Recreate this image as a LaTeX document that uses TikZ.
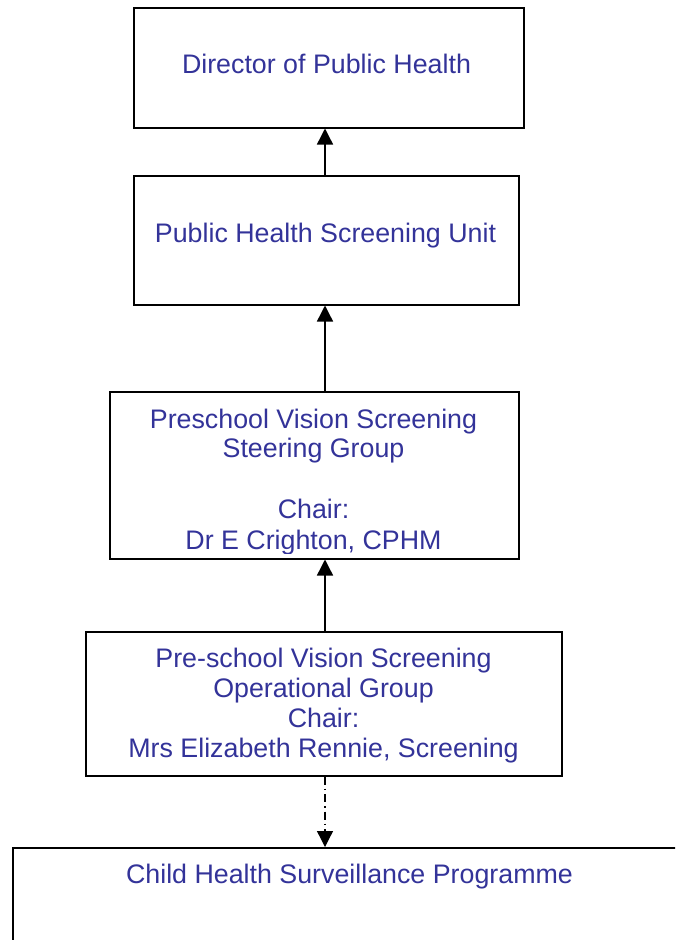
\documentclass[tikz,border=0pt]{standalone}
\usepackage{fontspec}
\setmainfont{Liberation Sans}
\usetikzlibrary{arrows.meta}
\definecolor{txtblue}{RGB}{51,51,153}
\tikzset{
  box/.style={draw=black, line width=1.5pt, inner sep=0pt, anchor=north west},
  lbl/.style={text=txtblue, font=\fontsize{26.8}{30}\selectfont, anchor=base, inner sep=0pt},
  uparrow/.style={draw=black, line width=1.4pt, -{Triangle[width=16pt,length=16pt]}},
  dotarrow/.style={draw=black, line width=1.3pt, dash pattern=on 8pt off 4pt on 1.5pt off 4pt, -{Triangle[width=16pt,length=16pt]}}
}
\begin{document}
\begin{tikzpicture}[x=1pt,y=-1pt]
\useasboundingbox (0,0) rectangle (675,940);
\clip (0,0) rectangle (675,940);
% boxes
\node[box, minimum width=390pt, minimum height=120pt] (b1) at (133,7) {};
\node[box, minimum width=385pt, minimum height=129pt] (b2) at (133,175) {};
\node[box, minimum width=409pt, minimum height=167pt] (b3) at (109,391) {};
\node[box, minimum width=476pt, minimum height=144pt] (b4) at (85,631) {};
\node[box, minimum width=678pt, minimum height=113pt] (b5) at (12,847) {};
% texts
\node[lbl] (t1) at (326.5,73) {Director of Public Health};
\node[lbl] (t2) at (325.5,242.5) {Public Health Screening Unit};
\begin{scope}
\clip (b3.north west) rectangle ([yshift=6.5pt]b3.south east);
\node[lbl] (t3a) at (313.5,428) {Preschool Vision Screening};
\node[lbl] (t3b) at (313.5,457.5) {Steering Group};
\node[lbl] (t3c) at (313.5,518.5) {Chair:};
\node[lbl] (t3d) at (313.5,549) {Dr E Crighton, CPHM};
\end{scope}
\node[lbl] (t4a) at (323.5,667) {Pre-school Vision Screening};
\node[lbl] (t4b) at (323.5,697) {Operational Group};
\node[lbl] (t4c) at (323.5,727) {Chair:};
\node[lbl] (t4d) at (323.5,757) {Mrs Elizabeth Rennie, Screening};
\node[lbl] (t5) at (349.5,883) {Child Health Surveillance Programme};
% connectors
\coordinate (ax) at (325,0);
\draw[uparrow] (ax |- b2.north) -- (ax |- b1.south);
\draw[uparrow] (ax |- b3.north) -- (ax |- b2.south);
\draw[uparrow] (ax |- b4.north) -- (ax |- b3.south);
\draw[dotarrow] (ax |- b4.south) -- (ax |- b5.north);
\end{tikzpicture}
\end{document}
